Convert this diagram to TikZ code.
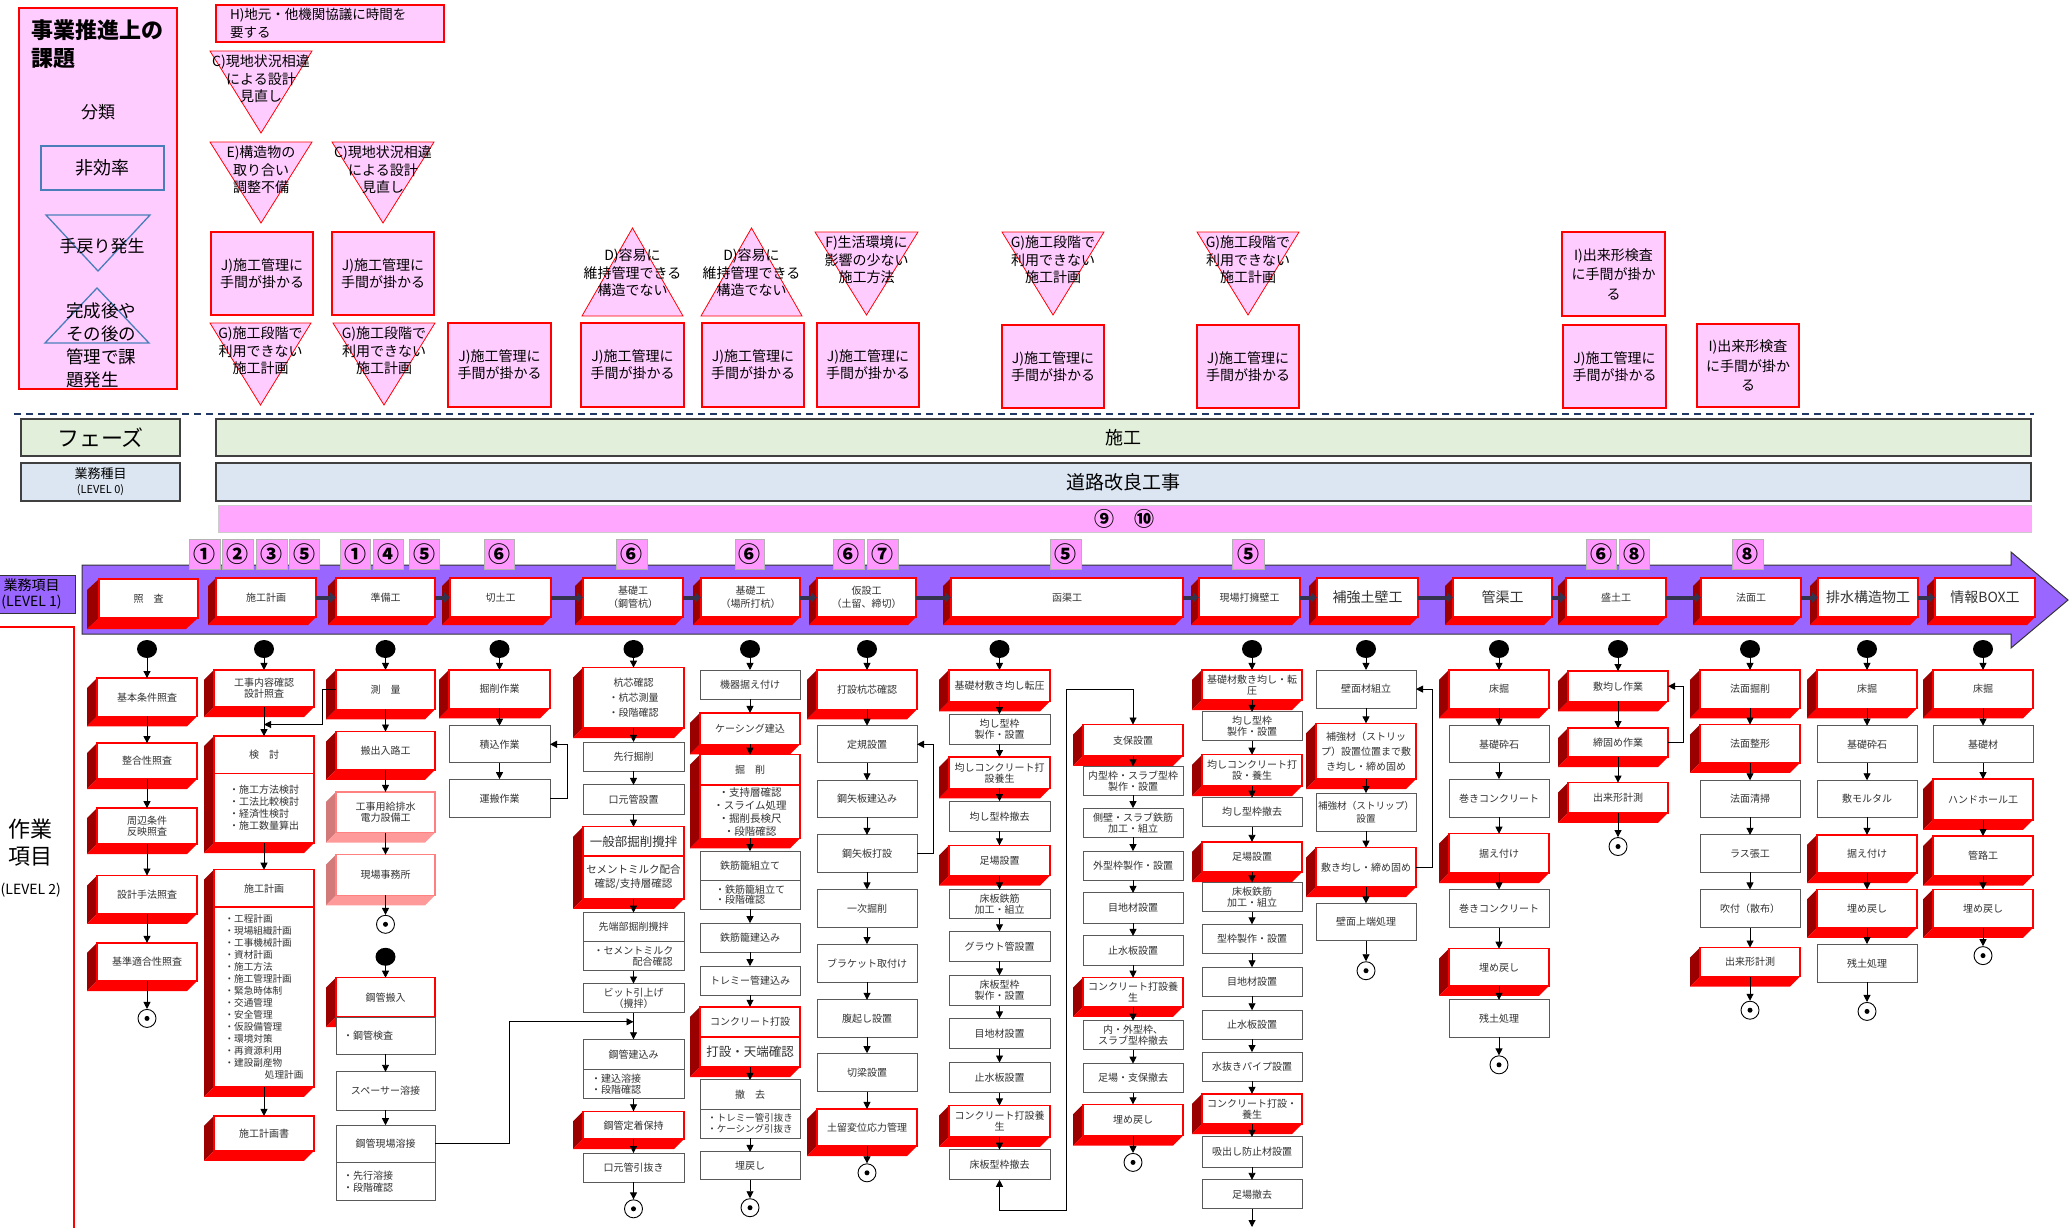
\documentclass[tikz,border=0pt]{standalone}
\usepackage{fontspec}
\setmainfont{Noto Sans CJK JP}
\usetikzlibrary{arrows.meta,shapes.geometric}
\definecolor{pinkbg}{HTML}{FFCCFF}
\definecolor{dred}{HTML}{9A0000}
\definecolor{bred}{HTML}{FF0000}
\definecolor{fdred}{HTML}{D27A7A}
\definecolor{fbred}{HTML}{FF9A9A}
\definecolor{fborder}{HTML}{FF8080}
\definecolor{grnbg}{HTML}{E2EFDA}
\definecolor{blubg}{HTML}{DCE6F2}
\definecolor{pbar}{HTML}{FFA6FF}
\definecolor{tabc}{HTML}{FF99FF}
\definecolor{purp}{HTML}{9966FF}
\definecolor{navy}{HTML}{1F3864}
\definecolor{legblue}{HTML}{4A7EBB}
\definecolor{txt}{HTML}{333333}
\definecolor{barc}{HTML}{33334D}
\newcommand\Fsz[2]{\fontsize{#1}{#2}\selectfont}
\newcommand\YT[1]{620+1.1614*(#1-620)}
% boxes in upper part (true coordinates)
\newcommand\Bx[7]{\node[#1,minimum width={(#5-#3)*1pt},minimum height={(#6-#4)*1pt}] (#2) at ({(#3+#5)/2},{(#4+#6)/2}) {#7};}
\newcommand\Ext[6]{%
  \fill[dred] (#1,#2) -- (#1,#4) -- (#1-#5,#4+#6) -- (#1-#5,#2+#6) -- cycle;
  \fill[bred] (#1,#4) -- (#3,#4) -- (#3-#5,#4+#6) -- (#1-#5,#4+#6) -- cycle;}
% boxes in lower part (vertical values rescaled)
\newcommand\Bxl[7]{\node[#1,minimum width={(#5-#3)*1pt},minimum height={1.1614*(#6-#4)*1pt}] (#2) at ({(#3+#5)/2},{\YT{(#4+#6)/2}}) {#7};}
\newcommand\ExtG[6]{%
  \fill[#5] (#1,{\YT{#2}}) -- (#1,{\YT{#4}}) -- (#1-10,{\YT{#4}+10}) -- (#1-10,{\YT{#2}+10}) -- cycle;
  \fill[#6] (#1,{\YT{#4}}) -- (#3,{\YT{#4}}) -- (#3-10,{\YT{#4}+10}) -- (#1-10,{\YT{#4}+10}) -- cycle;}
\newcommand\Extl[4]{\ExtG{#1}{#2}{#3}{#4}{dred}{bred}}
\newcommand\Rb[7][]{\Extl{#3}{#4}{#5}{#6}\Bxl{face,#1}{#2}{#3}{#4}{#5}{#6}{#7}}
\newcommand\Pb[7][]{\Bxl{plain,#1}{#2}{#3}{#4}{#5}{#6}{#7}}
\newcommand\Fdb[7][]{\ExtG{#3}{#4}{#5}{#6}{fdred}{fbred}\Bxl{fface,#1}{#2}{#3}{#4}{#5}{#6}{#7}}
\newcommand\Lb[5][]{\Ext{#3}{578}{#4}{617}{8}{8}\Bx{face,#1}{#2}{#3}{578}{#4}{617}{#5}}
\newcommand\Ntab[4]{\node[tabs,minimum width={(#3-#2)*1pt}] (#1) at ({(#2+#3)/2},554) {#4};}
\newcommand\Tdn[6]{\draw[tri] (#2,#4) -- (#3,#4) -- ({(#2+#3)/2},#5) -- cycle;
  \node[ttext] (#1) at ({(#2+#3)/2},#4+28) {#6};}
\newcommand\Tup[6]{\draw[tri] (#2,#4) -- (#3,#4) -- ({(#2+#3)/2},#5) -- cycle;
  \node[ttext] (#1) at ({(#2+#3)/2},#4-43) {#6};}
\tikzset{
 face/.style={draw=bred,line width=1.5pt,fill=white,inner sep=1pt,outer sep=0pt,align=center,text=txt,font=\Fsz{10}{12}},
 plain/.style={draw=black!65,line width=0.9pt,fill=white,inner sep=1pt,outer sep=0pt,align=center,text=txt,font=\Fsz{10}{12}},
 fface/.style={face,draw=fborder},
 arr/.style={-{Triangle[length=7pt,width=7pt]},line width=0.9pt,black},
 darr/.style={{Triangle[length=7pt,width=7pt]}-{Triangle[length=7pt,width=7pt]},line width=0.9pt,black},
 barr/.style={-{Triangle[length=6pt,width=10pt]},line width=4pt,barc},
 dot/.style={ellipse,fill=black,minimum width=20pt,minimum height=18pt,inner sep=0pt},
 endc/.style={circle,draw=black,line width=0.9pt,fill=white,minimum size=18pt,inner sep=0pt},
 pk/.style={draw=bred,line width=1.2pt,fill=pinkbg,inner sep=2pt,align=center,text=black,font=\Fsz{14}{17}},
 tri/.style={draw=bred,line width=0.8pt,fill=pinkbg},
 ttext/.style={align=center,font=\Fsz{14}{17.5},inner sep=0pt,text=black},
 tabs/.style={draw=black!30,line width=0.8pt,fill=tabc,minimum height=30pt,inner sep=0pt,font=\Fsz{22}{22}\bfseries},
 phase/.style={draw=black!75,line width=1.2pt,fill=grnbg,inner sep=1pt,align=center},
 lvl/.style={draw=black!75,line width=1.2pt,fill=blubg,inner sep=1pt,align=center},
 big/.style={font=\Fsz{14}{15}},
 two/.style={font=\Fsz{10}{13}},
 tl/.style={font=\Fsz{10}{11}},
}
\begin{document}
\begin{tikzpicture}[x=1pt,y=-1pt]
\useasboundingbox (0,0) rectangle (2071,1227);
\fill[white] (0,0) rectangle (2071,1227);
% ---------- legend ----------
\Bx{draw=bred,line width=1.2pt,fill=pinkbg}{leg}{19}{8}{177}{389}{}
\node[anchor=north west,align=left,font=\Fsz{22}{28}\bfseries,inner sep=0pt] (legt) at (31,19) {事業推進上の\\課題};
\node[font=\Fsz{17}{20}] (legc) at (98,112) {分類};
\Bx{draw=legblue,line width=1.3pt,font=\Fsz{18}{20}}{lega}{41}{146}{164}{190}{非効率}
\draw[legblue,line width=1.3pt] (46,215) -- (150,215) -- (98,271) -- cycle;
\node[font=\Fsz{17}{20}] (legd) at (102,246) {手戻り発生};
\draw[legblue,line width=1.3pt] (45,343) -- (149,343) -- (97,288) -- cycle;
\node[anchor=west,align=left,font=\Fsz{17.5}{23},inner sep=0pt] (lege) at (66,345) {完成後や\\その後の\\管理で課\\題発生};
% ---------- problems ----------
\Bx{pk,align=left,text width=200pt,font=\Fsz{13.5}{18}}{h1}{216}{5}{444}{42}{H)地元・他機関協議に時間を\\要する}
\Tdn{t1}{210}{312}{51}{133}{C)現地状況相違\\による設計\\見直し}
\Tdn{t2}{210}{312}{142}{223}{E)構造物の\\取り合い\\調整不備}
\Tdn{t3}{332}{434}{142}{223}{C)現地状況相違\\による設計\\見直し}
\Bx{pk}{j1}{211}{232}{313}{315}{J)施工管理に\\手間が掛かる}
\Bx{pk}{j2}{332}{232}{434}{315}{J)施工管理に\\手間が掛かる}
\Tdn{t4}{210}{311}{323}{405}{G)施工段階で\\利用できない\\施工計画}
\Tdn{t5}{333}{435}{323}{405}{G)施工段階で\\利用できない\\施工計画}
\Bx{pk}{j3}{448}{323}{551}{407}{J)施工管理に\\手間が掛かる}
\Tup{t6}{582}{683}{316}{228}{D)容易に\\維持管理できる\\構造でない}
\Bx{pk}{j4}{581}{323}{684}{407}{J)施工管理に\\手間が掛かる}
\Tup{t7}{701}{802}{316}{228}{D)容易に\\維持管理できる\\構造でない}
\Bx{pk}{j5}{702}{323}{804}{407}{J)施工管理に\\手間が掛かる}
\Tdn{t8}{815}{918}{232}{315}{F)生活環境に\\影響の少ない\\施工方法}
\Bx{pk}{j6}{817}{323}{919}{407}{J)施工管理に\\手間が掛かる}
\Tdn{t9}{1002}{1104}{232}{315}{G)施工段階で\\利用できない\\施工計画}
\Bx{pk}{j7}{1002}{325}{1104}{408}{J)施工管理に\\手間が掛かる}
\Tdn{t10}{1197}{1299}{232}{315}{G)施工段階で\\利用できない\\施工計画}
\Bx{pk}{j8}{1197}{325}{1299}{408}{J)施工管理に\\手間が掛かる}
\Bx{pk,font=\Fsz{14}{19.5}}{i1}{1562}{232}{1665}{316}{I)出来形検査\\に手間が掛か\\る}
\Bx{pk}{j9}{1563}{325}{1666}{408}{J)施工管理に\\手間が掛かる}
\Bx{pk,font=\Fsz{14}{19.5}}{i2}{1697}{324}{1799}{407}{I)出来形検査\\に手間が掛か\\る}
\draw[navy,line width=1.8pt,dash pattern=on 7pt off 5pt] (14,414) -- (2034,414);
% ---------- phase rows ----------
\Bx{phase,font=\Fsz{22}{24}}{ph1}{21}{419}{180}{456}{フェーズ}
\Bx{phase,font=\Fsz{18}{20}}{ph2}{216}{419}{2031}{456}{施工}
\Bx{lvl,font=\Fsz{13}{15}}{lv1}{21}{463}{180}{501}{業務種目\\{\Fsz{11}{13}(LEVEL 0)}}
\Bx{lvl,font=\Fsz{19}{20}}{lv2}{216}{463}{2031}{501}{道路改良工事}
\Bx{draw=black!20,line width=1pt,fill=pbar,font=\Fsz{20}{20}\bfseries}{pb1}{218}{505}{2031}{532}{⑨　⑩}
% ---------- level 1 arrow ----------
\draw[black!80,line width=1pt,fill=purp] (82,565) -- (2011,565) -- (2011,552) -- (2068,600) -- (2011,648) -- (2011,634) -- (82,634) -- cycle;
\node[draw=black!80,line width=1pt,fill=purp,minimum width=87pt,minimum height=38pt,align=center,inner sep=0pt,font=\Fsz{14}{16}] (lab1) at (31.5,594) {業務項目\\(LEVEL 1)};
\Ntab{n1}{189}{220}{①}\Ntab{n2}{222}{253}{②}\Ntab{n3}{256}{287}{③}\Ntab{n4}{289}{319}{⑤}
\Ntab{n5}{340}{370}{①}\Ntab{n6}{373}{403}{④}\Ntab{n7}{409}{439}{⑤}
\Ntab{n8}{484}{514}{⑥}\Ntab{n9}{616}{647}{⑥}\Ntab{n10}{735}{764}{⑥}
\Ntab{n11}{833}{864}{⑥}\Ntab{n12}{867}{898}{⑦}\Ntab{n13}{1050}{1081}{⑤}
\Ntab{n14}{1232}{1264}{⑤}\Ntab{n15}{1586}{1616}{⑥}\Ntab{n16}{1619}{1649}{⑧}
\Ntab{n17}{1732}{1763}{⑧}
\Ext{99}{579}{198}{618}{12}{11}\Bx{face}{l1}{99}{579}{198}{618}{照　査}
\Lb{l2}{216}{316}{施工計画}
\Lb{l3}{336}{435}{準備工}
\Lb{l4}{450}{551}{切土工}
\Lb[two]{l5}{583}{683}{基礎工\\（鋼管杭）}
\Lb[two]{l6}{701}{800}{基礎工\\（場所打杭）}
\Lb[two]{l7}{817}{916}{仮設工\\（土留、締切）}
\Lb{l8}{951}{1183}{函渠工}
\Lb{l9}{1199}{1300}{現場打擁壁工}
\Lb[big]{l10}{1317}{1418}{補強土壁工}
\Lb[big]{l11}{1453}{1552}{管渠工}
\Lb{l12}{1566}{1666}{盛土工}
\Lb{l13}{1701}{1801}{法面工}
\Lb[big]{l14}{1818}{1918}{排水構造物工}
\Lb[big]{l15}{1935}{2035}{情報BOX工}
\foreach \ua/\ub in {l2/l3,l3/l4,l4/l5,l5/l6,l6/l7,l7/l8,l8/l9,l9/l10,l10/l11,l11/l12,l12/l13,l13/l14,l14/l15}
  \draw[barr] (\ua.east) -- (\ub.west);
% ---------- level 2 ----------
\draw[bred,line width=1.2pt] (-5,627) -- (74,627) -- (74,1240);
\node[align=center,font=\Fsz{22}{27}] (w1) at (31,843) {作業\\項目};
\node[anchor=west,font=\Fsz{14}{15},inner sep=0pt] (w2) at (0.5,890) {(LEVEL 2)};
\foreach \nm/\xx in {d1/147,d2/264,d3/385.5,d4/499.5,d5/633.5,d6/750,d7/867,d8/999.5,d10/1252,d11/1366,d12/1499,d13/1618,d14/1750,d15/1867,d16/1983}
  \node[dot] (\nm) at (\xx,649) {};
\node[dot] (d3b) at (385.5,956.8) {};
\foreach \nm/\xx/\yy in {e1/147/1018.4,e3/385.5/924.3,e5/633.5/1208.8,e6/750/1207.7,e7/867/1172.8,e9/1133/1162.4,e11/1366/970.7,e12/1499/1064.8,e13/1618/846.5,e14/1750/1010.2,e15/1867/1011.4,e16/1983/955.6}
  {\node[endc] (\nm) at (\xx,\yy) {}; \fill (\nm.center) circle[radius=2.5pt];}
% col 1
\Rb{c1a}{97}{670}{197}{703}{基本条件照査}
\Rb{c1b}{97}{726}{197}{757}{整合性照査}
\Rb[tl]{c1c}{97}{782}{197}{813}{周辺条件\\反映照査}
\Rb{c1d}{97}{840}{197}{873}{設計手法照査}
\Rb{c1e}{97}{898}{197}{931}{基準適合性照査}
% col 2
\Rb[tl]{c2a}{214}{663}{314}{695}{工事内容確認\\設計照査}
\Extl{214}{720}{314}{812}
\Bxl{face}{c2b}{214}{720}{314}{752}{検　討}
\Bxl{face,align=left,font=\Fsz{10}{12}}{c2bb}{214}{752}{314}{812}{・施工方法検討\\・工法比較検討\\・経済性検討\\・施工数量算出}
\Extl{214}{835}{314}{1022}
\Bxl{face}{c2c}{214}{835}{314}{867}{施工計画}
\Bxl{face,align=left,font=\Fsz{9.6}{12}}{c2cc}{214}{867}{314}{1022}{・工程計画\\・現場組織計画\\・工事機械計画\\・資材計画\\・施工方法\\・施工管理計画\\・緊急時体制\\・交通管理\\・安全管理\\・仮設備管理\\・環境対策\\・再資源利用\\・建設副産物\\\hspace*{4.2em}処理計画}
\Rb{c2d}{214}{1047}{314}{1077}{施工計画書}
% col 3
\Rb{c3a}{336}{663}{435}{697}{測　量}
\Rb{c3b}{336}{716}{435}{749}{搬出入路工}
\Fdb[tl]{c3c}{336}{768}{435}{803}{工事用給排水\\電力設備工}
\Fdb{c3d}{336}{822}{435}{857}{現場事務所}
\Extl{336}{928}{435}{962}
\Bxl{face}{c3e}{336}{928}{435}{962}{鋼管搬入}
\Bxl{plain,align=left,text width=85pt}{c3ee}{336}{962}{435}{994}{・鋼管検査}
\Pb{c3f}{336}{1009}{435}{1042}{スペーサー溶接}
\Pb{c3g}{336}{1055}{435}{1087}{鋼管現場溶接}
\Bxl{plain,align=left,text width=85pt,font=\Fsz{10}{12}}{c3gg}{336}{1087}{435}{1120}{・先行溶接\\・段階確認}
% col 4
\Rb{c4a}{449}{663}{550}{696}{掘削作業}
\Pb{c4b}{449}{711}{550}{743}{積込作業}
\Pb{c4c}{449}{757}{550}{790}{運搬作業}
% col 5
\Rb[font=\Fsz{10}{15}]{c5a}{583}{661}{684}{713}{杭芯確認\\・杭芯測量\\・段階確認}
\Pb{c5b}{583}{725}{684}{750}{先行掘削}
\Pb{c5c}{583}{762}{684}{787}{口元管設置}
\Extl{583}{798}{684}{860}
\Bxl{face,font=\Fsz{12.5}{13}}{c5d}{583}{798}{684}{823}{一般部掘削攪拌}
\Bxl{face,font=\Fsz{10.5}{14}}{c5dd}{583}{823}{684}{860}{セメントミルク配合\\確認/支持層確認}
\Pb{c5e}{583}{872}{684}{897}{先端部掘削攪拌}
\Bxl{plain,align=left,font=\Fsz{10}{10.5}}{c5ee}{583}{897}{684}{922}{・セメントミルク\\\hspace*{3.9em}配合確認}
\Pb[font=\Fsz{10}{11}]{c5f}{583}{933}{684}{958}{ビット引上げ\\（攪拌）}
\Pb{c5g}{583}{981}{684}{1007}{鋼管建込み}
\Bxl{plain,align=left,text width=85pt,font=\Fsz{10}{11}}{c5gg}{583}{1007}{684}{1032}{・建込溶接\\・段階確認}
\Rb{c5h}{583}{1043}{684}{1067}{鋼管定着保持}
\Pb{c5i}{583}{1079}{684}{1104}{口元管引抜き}
% col 6
\Pb{c6a}{700}{663}{800}{688}{機器据え付け}
\Rb{c6b}{700}{700}{800}{727}{ケーシング建込}
\Extl{700}{736}{800}{808}
\Bxl{face}{c6c}{700}{736}{800}{762}{掘　削}
\Bxl{face,font=\Fsz{10.5}{13}}{c6cc}{700}{762}{800}{808}{・支持層確認\\・スライム処理\\・掘削長検尺\\・段階確認}
\Pb{c6d}{700}{819}{800}{844}{鉄筋籠組立て}
\Bxl{plain,align=left,font=\Fsz{10}{10.5}}{c6dd}{700}{844}{800}{869}{・鉄筋籠組立て\\・段階確認}
\Pb{c6e}{700}{881}{800}{906}{鉄筋籠建込み}
\Pb{c6f}{700}{918}{800}{943}{トレミー管建込み}
\Extl{700}{953}{800}{1005}
\Bxl{face}{c6g}{700}{953}{800}{979}{コンクリート打設}
\Bxl{face,font=\Fsz{12.5}{13}}{c6gg}{700}{979}{800}{1005}{打設・天端確認}
\Pb{c6h}{700}{1016}{800}{1041}{撤　去}
\Bxl{plain,align=left,font=\Fsz{9.5}{10.5}}{c6hh}{700}{1041}{800}{1066}{・トレミー管引抜き\\・ケーシング引抜き}
\Pb{c6i}{700}{1078}{800}{1102}{埋戻し}
% col 7
\Rb{c7a}{817}{663}{917}{697}{打設杭芯確認}
\Pb{c7b}{817}{711}{917}{743}{定規設置}
\Pb{c7c}{817}{758}{917}{790}{鋼矢板建込み}
\Pb{c7d}{817}{805}{917}{837}{鋼矢板打設}
\Pb{c7e}{817}{852}{917}{885}{一次掘削}
\Pb{c7f}{817}{899}{917}{932}{ブラケット取付け}
\Pb{c7g}{817}{947}{917}{979}{腹起し設置}
\Pb{c7h}{817}{993}{917}{1026}{切梁設置}
\Rb{c7i}{817}{1041}{917}{1073}{土留変位応力管理}
% col 8
\Rb{c8a}{949}{663}{1050}{690}{基礎材敷き均し転圧}
\Pb[tl]{c8b}{949}{701}{1050}{727}{均し型枠\\製作・設置}
\Rb[tl]{c8c}{949}{738}{1050}{765}{均しコンクリート打\\設養生}
\Pb{c8d}{949}{776}{1050}{802}{均し型枠撤去}
\Rb{c8e}{949}{814}{1050}{840}{足場設置}
\Pb[tl]{c8f}{949}{852}{1050}{877}{床板鉄筋\\加工・組立}
\Pb{c8g}{949}{888}{1050}{914}{グラウト管設置}
\Pb[tl]{c8h}{949}{926}{1050}{952}{床板型枠\\製作・設置}
\Pb{c8i}{949}{963}{1050}{989}{目地材設置}
\Pb{c8j}{949}{1001}{1050}{1027}{止水板設置}
\Rb[tl]{c8k}{949}{1038}{1050}{1065}{コンクリート打設養\\生}
\Pb{c8l}{949}{1076}{1050}{1102}{床板型枠撤去}
% col 9
\Rb{c9a}{1083}{710}{1183}{737}{支保設置}
\Pb[tl]{c9b}{1083}{746}{1183}{771}{内型枠・スラブ型枠\\製作・設置}
\Pb[tl]{c9c}{1083}{782}{1183}{807}{側壁・スラブ鉄筋\\加工・組立}
\Pb{c9d}{1083}{819}{1183}{844}{外型枠製作・設置}
\Pb{c9e}{1083}{855}{1183}{881}{目地材設置}
\Pb{c9f}{1083}{892}{1183}{917}{止水板設置}
\Rb[tl]{c9g}{1083}{928}{1183}{953}{コンクリート打設養\\生}
\Pb[tl]{c9h}{1083}{965}{1183}{990}{内・外型枠、\\スラブ型枠撤去}
\Pb{c9i}{1083}{1002}{1183}{1027}{足場・支保撤去}
\Rb{c9j}{1083}{1037}{1183}{1064}{埋め戻し}
% col 10
\Rb[tl]{c10a}{1202}{663}{1302}{689}{基礎材敷き均し・転\\圧}
\Pb[tl]{c10b}{1202}{699}{1302}{724}{均し型枠\\製作・設置}
\Rb[tl]{c10c}{1202}{736}{1302}{763}{均しコンクリート打\\設・養生}
\Pb{c10d}{1202}{773}{1302}{798}{均し型枠撤去}
\Rb{c10e}{1202}{811}{1302}{837}{足場設置}
\Pb[tl]{c10f}{1202}{846}{1302}{871}{床板鉄筋\\加工・組立}
\Pb{c10g}{1202}{882}{1302}{907}{型枠製作・設置}
\Pb{c10h}{1202}{919}{1302}{944}{目地材設置}
\Pb{c10i}{1202}{956}{1302}{981}{止水板設置}
\Pb{c10j}{1202}{992}{1302}{1017}{水抜きパイプ設置}
\Rb[tl]{c10k}{1202}{1028}{1302}{1054}{コンクリート打設・\\養生}
\Pb{c10l}{1202}{1065}{1302}{1091}{吸出し防止材設置}
\Pb{c10m}{1202}{1102}{1302}{1127}{足場撤去}
\coordinate (c10end) at (1252,1227);
% col 11
\Pb{c11a}{1316}{663}{1416}{696}{壁面材組立}
\Rb[font=\Fsz{10}{15}]{c11b}{1316}{709}{1416}{757}{補強材（ストリッ\\プ）設置位置まで敷\\き均し・締め固め}
\Pb[font=\Fsz{9.6}{13}]{c11c}{1316}{769}{1416}{802}{補強材（ストリップ）\\設置}
\Rb{c11d}{1316}{816}{1416}{850}{敷き均し・締め固め}
\Pb{c11e}{1316}{864}{1416}{896}{壁面上端処理}
% col 12
\Rb{c12a}{1449}{663}{1549}{696}{床掘}
\Pb{c12b}{1449}{711}{1549}{743}{基礎砕石}
\Pb{c12c}{1449}{757}{1549}{790}{巻きコンクリート}
\Rb{c12d}{1449}{804}{1549}{838}{据え付け}
\Pb{c12e}{1449}{852}{1549}{885}{巻きコンクリート}
\Rb{c12f}{1449}{903}{1549}{935}{埋め戻し}
\Pb{c12g}{1449}{947}{1549}{979}{残土処理}
% col 13
\Rb{c13a}{1568}{664}{1668}{690}{敷均し作業}
\Rb{c13b}{1568}{713}{1668}{738}{締固め作業}
\Rb{c13c}{1568}{760}{1668}{786}{出来形計測}
% col 14
\Rb{c14a}{1700}{663}{1800}{696}{法面掘削}
\Rb{c14b}{1700}{710}{1800}{743}{法面整形}
\Pb{c14c}{1700}{758}{1800}{790}{法面清掃}
\Pb{c14d}{1700}{805}{1800}{837}{ラス張工}
\Pb{c14e}{1700}{852}{1800}{885}{吹付（散布）}
\Rb{c14f}{1700}{902}{1800}{927}{出来形計測}
% col 15
\Rb{c15a}{1817}{663}{1917}{696}{床掘}
\Pb{c15b}{1817}{711}{1917}{743}{基礎砕石}
\Pb{c15c}{1817}{758}{1917}{790}{敷モルタル}
\Rb{c15d}{1817}{805}{1917}{838}{据え付け}
\Rb{c15e}{1817}{852}{1917}{885}{埋め戻し}
\Pb{c15f}{1817}{899}{1917}{932}{残土処理}
% col 16
\Rb{c16a}{1933}{663}{2033}{696}{床掘}
\Pb{c16b}{1933}{711}{2033}{743}{基礎材}
\Rb{c16c}{1933}{757}{2033}{792}{ハンドホール工}
\Rb{c16d}{1933}{806}{2033}{840}{管路工}
\Rb{c16e}{1933}{852}{2033}{885}{埋め戻し}
% ---------- connectors ----------
\foreach \ua/\ub in {d1/c1a,c1a/c1b,c1b/c1c,c1c/c1d,c1d/c1e,c1e/e1,
  d2/c2a,c2a/c2b,c2bb/c2c,c2cc/c2d,
  d3/c3a,c3a/c3b,c3b/c3c,c3c/c3d,c3d/e3,d3b/c3e,c3ee/c3f,c3f/c3g,
  d4/c4a,c4a/c4b,c4b/c4c,
  d5/c5a,c5a/c5b,c5b/c5c,c5c/c5d,c5dd/c5e,c5ee/c5f,c5f/c5g,c5gg/c5h,c5h/c5i,c5i/e5,
  d6/c6a,c6a/c6b,c6b/c6c,c6cc/c6d,c6dd/c6e,c6e/c6f,c6f/c6g,c6gg/c6h,c6hh/c6i,c6i/e6,
  d7/c7a,c7a/c7b,c7b/c7c,c7c/c7d,c7d/c7e,c7e/c7f,c7f/c7g,c7g/c7h,c7h/c7i,c7i/e7,
  d8/c8a,c8a/c8b,c8b/c8c,c8c/c8d,c8d/c8e,c8e/c8f,c8f/c8g,c8g/c8h,c8h/c8i,c8i/c8j,c8j/c8k,c8k/c8l,
  c9a/c9b,c9b/c9c,c9c/c9d,c9d/c9e,c9e/c9f,c9f/c9g,c9g/c9h,c9h/c9i,c9i/c9j,c9j/e9,
  d10/c10a,c10a/c10b,c10b/c10c,c10c/c10d,c10d/c10e,c10e/c10f,c10f/c10g,c10g/c10h,c10h/c10i,c10i/c10j,c10j/c10k,c10k/c10l,c10l/c10m,c10m/c10end,
  d11/c11a,c11a/c11b,c11b/c11c,c11c/c11d,c11d/c11e,c11e/e11,
  d12/c12a,c12a/c12b,c12b/c12c,c12c/c12d,c12d/c12e,c12e/c12f,c12f/c12g,c12g/e12,
  d13/c13a,c13a/c13b,c13b/c13c,c13c/e13,
  d14/c14a,c14a/c14b,c14b/c14c,c14c/c14d,c14d/c14e,c14e/c14f,c14f/e14,
  d15/c15a,c15a/c15b,c15b/c15c,c15c/c15d,c15d/c15e,c15e/c15f,c15f/e15,
  d16/c16a,c16a/c16b,c16b/c16c,c16c/c16d,c16d/c16e,c16e/e16}
  \draw[arr] (\ua) -- (\ub);
\coordinate (j2) at (264,724.5);
\draw[arr] (c3a.west) -- ++(-14,0) |- (j2);
\coordinate (j5) at (633.5,1021.8);
\draw[arr] (c3g.east) -| (509,1021.8) -- (j5);
\draw[arr] (c4c.east) -- ++(17,0) |- (c4b.east);
\draw[arr] (c7d.east) -- ++(16,0) |- (c7b.east);
\draw[arr] (c11d.east) -- ++(16,0) |- (c11a.east);
\draw[arr] (c13b.east) -- ++(15,0) |- (c13a.east);
\draw[darr] (c8l.south) -- (999.5,1210) -| (1066,689.7) -| (c9a.north);
\end{tikzpicture}
\end{document}
